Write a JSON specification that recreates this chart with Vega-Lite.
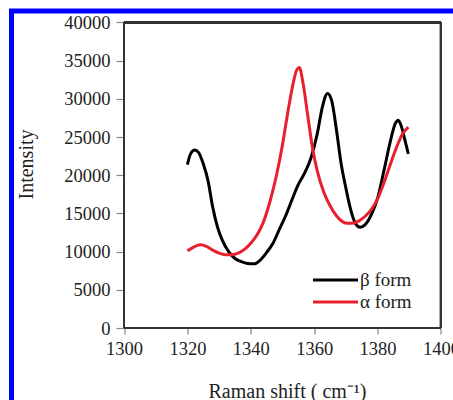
{
  "$schema": "https://vega.github.io/schema/vega-lite/v6.json",
  "width": 450,
  "height": 400,
  "autosize": {"type": "none"},
  "padding": {"left": 11.5, "top": 11, "right": 0, "bottom": 0},
  "background": "white",
  "config": {
    "font": "Liberation Serif",
    "view": {"stroke": "#0000ff", "strokeWidth": 5},
    "axis": {"labelFont": "Liberation Serif", "titleFont": "Liberation Serif", "labelColor": "#222", "titleColor": "#222", "tickColor": "#888", "tickWidth": 1.2, "grid": false, "domain": false, "titleFontWeight": "normal", "labelFontSize": 18.5, "titleFontSize": 20, "format": "d"},
    "legend": {"labelFont": "Liberation Serif", "labelFontSize": 19, "labelColor": "#222"}
  },
  "data": {"values": [
    {"form": "β form", "shift": 1320.0, "intensity": 21400},
    {"form": "β form", "shift": 1321.0, "intensity": 22800},
    {"form": "β form", "shift": 1322.3, "intensity": 23300},
    {"form": "β form", "shift": 1323.5, "intensity": 23000},
    {"form": "β form", "shift": 1325.0, "intensity": 21500},
    {"form": "β form", "shift": 1326.5, "intensity": 19300},
    {"form": "β form", "shift": 1328.0, "intensity": 15800},
    {"form": "β form", "shift": 1329.5, "intensity": 13200},
    {"form": "β form", "shift": 1331.0, "intensity": 11500},
    {"form": "β form", "shift": 1333.0, "intensity": 10000},
    {"form": "β form", "shift": 1335.0, "intensity": 9100},
    {"form": "β form", "shift": 1337.0, "intensity": 8700},
    {"form": "β form", "shift": 1339.0, "intensity": 8450},
    {"form": "β form", "shift": 1341.0, "intensity": 8400},
    {"form": "β form", "shift": 1343.0, "intensity": 8900},
    {"form": "β form", "shift": 1345.0, "intensity": 9900},
    {"form": "β form", "shift": 1347.0, "intensity": 11100},
    {"form": "β form", "shift": 1349.0, "intensity": 12900},
    {"form": "β form", "shift": 1351.0, "intensity": 14700},
    {"form": "β form", "shift": 1353.0, "intensity": 16800},
    {"form": "β form", "shift": 1355.0, "intensity": 18800},
    {"form": "β form", "shift": 1357.0, "intensity": 20300},
    {"form": "β form", "shift": 1359.0, "intensity": 22300},
    {"form": "β form", "shift": 1361.0, "intensity": 25500},
    {"form": "β form", "shift": 1362.5, "intensity": 28800},
    {"form": "β form", "shift": 1364.2, "intensity": 30700},
    {"form": "β form", "shift": 1365.5, "intensity": 29800},
    {"form": "β form", "shift": 1367.0, "intensity": 26000},
    {"form": "β form", "shift": 1368.5, "intensity": 21500},
    {"form": "β form", "shift": 1370.0, "intensity": 18300},
    {"form": "β form", "shift": 1371.5, "intensity": 15500},
    {"form": "β form", "shift": 1373.0, "intensity": 13700},
    {"form": "β form", "shift": 1374.5, "intensity": 13200},
    {"form": "β form", "shift": 1376.0, "intensity": 13500},
    {"form": "β form", "shift": 1378.0, "intensity": 14800},
    {"form": "β form", "shift": 1380.0, "intensity": 17000},
    {"form": "β form", "shift": 1382.0, "intensity": 20600},
    {"form": "β form", "shift": 1384.0, "intensity": 24400},
    {"form": "β form", "shift": 1385.5, "intensity": 26700},
    {"form": "β form", "shift": 1386.5, "intensity": 27200},
    {"form": "β form", "shift": 1387.5, "intensity": 26400},
    {"form": "β form", "shift": 1388.5, "intensity": 24800},
    {"form": "β form", "shift": 1389.7, "intensity": 22800},
    {"form": "α form", "shift": 1320.0, "intensity": 10100},
    {"form": "α form", "shift": 1322.0, "intensity": 10600},
    {"form": "α form", "shift": 1324.0, "intensity": 10900},
    {"form": "α form", "shift": 1326.0, "intensity": 10700},
    {"form": "α form", "shift": 1328.0, "intensity": 10200},
    {"form": "α form", "shift": 1330.0, "intensity": 9800},
    {"form": "α form", "shift": 1332.0, "intensity": 9600},
    {"form": "α form", "shift": 1334.0, "intensity": 9600},
    {"form": "α form", "shift": 1336.0, "intensity": 9800},
    {"form": "α form", "shift": 1338.0, "intensity": 10300},
    {"form": "α form", "shift": 1340.0, "intensity": 11100},
    {"form": "α form", "shift": 1342.0, "intensity": 12200},
    {"form": "α form", "shift": 1344.0, "intensity": 13900},
    {"form": "α form", "shift": 1346.0, "intensity": 16500},
    {"form": "α form", "shift": 1348.0, "intensity": 19800},
    {"form": "α form", "shift": 1350.0, "intensity": 24000},
    {"form": "α form", "shift": 1351.5, "intensity": 27800},
    {"form": "α form", "shift": 1353.0, "intensity": 31300},
    {"form": "α form", "shift": 1354.5, "intensity": 33800},
    {"form": "α form", "shift": 1355.3, "intensity": 34100},
    {"form": "α form", "shift": 1356.5, "intensity": 32000},
    {"form": "α form", "shift": 1358.0, "intensity": 27700},
    {"form": "α form", "shift": 1359.5, "intensity": 23500},
    {"form": "α form", "shift": 1361.0, "intensity": 20500},
    {"form": "α form", "shift": 1363.0, "intensity": 17800},
    {"form": "α form", "shift": 1365.0, "intensity": 16000},
    {"form": "α form", "shift": 1367.0, "intensity": 14700},
    {"form": "α form", "shift": 1369.0, "intensity": 13900},
    {"form": "α form", "shift": 1370.5, "intensity": 13700},
    {"form": "α form", "shift": 1372.0, "intensity": 13700},
    {"form": "α form", "shift": 1374.0, "intensity": 14000},
    {"form": "α form", "shift": 1376.0, "intensity": 14600},
    {"form": "α form", "shift": 1378.0, "intensity": 15500},
    {"form": "α form", "shift": 1380.0, "intensity": 16900},
    {"form": "α form", "shift": 1382.0, "intensity": 19000},
    {"form": "α form", "shift": 1384.0, "intensity": 21400},
    {"form": "α form", "shift": 1386.0, "intensity": 23700},
    {"form": "α form", "shift": 1388.0, "intensity": 25500},
    {"form": "α form", "shift": 1389.7, "intensity": 26300}
  ]},
  "layer": [
    {
      "mark": {"type": "line", "strokeWidth": 3, "interpolate": "monotone"},
      "encoding": {
        "x": {"field": "shift", "type": "quantitative",
          "scale": {"domain": [1264.511, 1406.467], "nice": false, "zero": false},
          "axis": {"title": "Raman shift ( cm⁻¹)", "values": [1300, 1320, 1340, 1360, 1380, 1400], "offset": -83, "tickSize": 6, "labelPadding": 5, "titleX": 275.5, "titleY": 69, "titleBaseline": "alphabetic", "titleAnchor": null, "titleAlign": "center"}},
        "y": {"field": "intensity", "type": "quantitative",
          "scale": {"domain": [-10867.4, 41505.7], "nice": false, "zero": false},
          "axis": {"title": "Intensity", "values": [0, 5000, 10000, 15000, 20000, 25000, 30000, 35000, 40000], "offset": -112.5, "tickSize": 8, "labelPadding": 6, "titleX": -92, "titleY": 153, "titleBaseline": "alphabetic", "titleAlign": "center", "titleAngle": -90}},
        "color": {"field": "form", "type": "nominal", "sort": ["β form", "α form"],
          "scale": {"domain": ["β form", "α form"], "range": ["#000000", "#e8202e"]},
          "legend": {"title": null, "orient": "none", "legendX": 313.5, "legendY": 258.5, "padding": 0, "symbolType": "M-2.5,0H2.5", "symbolSize": 324, "symbolStrokeWidth": 3, "labelOffset": 14, "rowPadding": 1}}
      }
    },
    {"mark": {"type": "rule", "color": "#333", "strokeWidth": 2}, "encoding": {"x": {"datum": 1300, "type": "quantitative"}, "y": {"datum": 0, "type": "quantitative"}, "y2": {"datum": 40000}}},
    {"mark": {"type": "rule", "color": "#333", "strokeWidth": 2}, "encoding": {"x": {"datum": 1400, "type": "quantitative"}, "y": {"datum": 0, "type": "quantitative"}, "y2": {"datum": 40000}}},
    {"mark": {"type": "rule", "color": "#333", "strokeWidth": 2}, "encoding": {"y": {"datum": 0, "type": "quantitative"}, "x": {"datum": 1300, "type": "quantitative"}, "x2": {"datum": 1400}}},
    {"mark": {"type": "rule", "color": "#333", "strokeWidth": 2}, "encoding": {"y": {"datum": 40000, "type": "quantitative"}, "x": {"datum": 1300, "type": "quantitative"}, "x2": {"datum": 1400}}}
  ]
}
